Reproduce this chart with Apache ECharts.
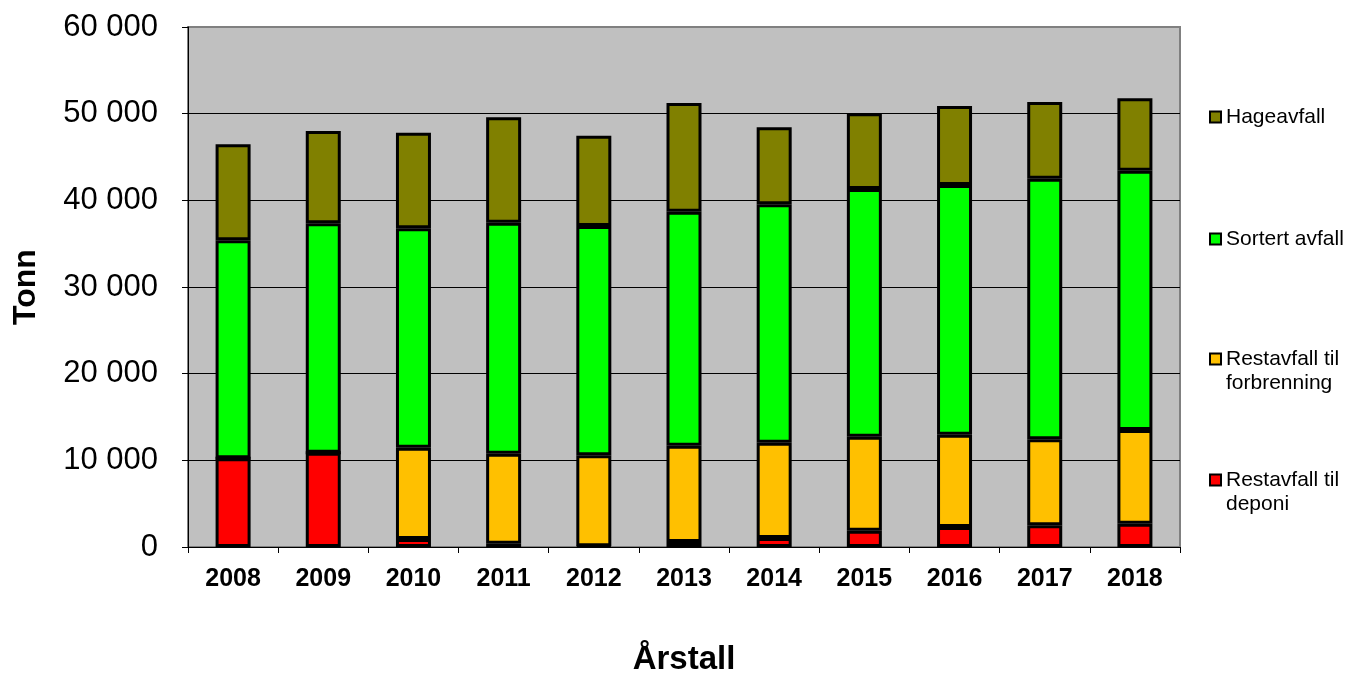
<!DOCTYPE html>
<html>
<head>
<meta charset="utf-8">
<style>
  html, body { margin: 0; padding: 0; background: #fff; }
  #chart { width: 1355px; height: 675px; }
</style>
<script src="https://cdn.jsdelivr.net/npm/echarts@6/dist/echarts.min.js"></script>
</head>
<body>
<div id="chart"></div>
<script>
// Waste volumes per year, in tonnes
const years = ['2008', '2009', '2010', '2011', '2012', '2013', '2014', '2015', '2016', '2017', '2018'];
const restDeponi = [10250, 10880, 920, 380, 100, 580, 1040, 1880, 2310, 2500, 2690];
const restForbrenning = [0, 0, 10540, 10390, 10480, 11110, 11000, 10850, 10650, 9920, 10810];
const sortert = [25130, 26470, 25310, 26650, 26460, 27000, 27500, 28580, 28810, 30080, 29920];
const hage = [11080, 10650, 11030, 12180, 10420, 12540, 8880, 8730, 9110, 8850, 8350];

const names = {
  hage: 'Hageavfall',
  sortert: 'Sortert avfall',
  forbr: 'Restavfall til\nforbrenning',
  deponi: 'Restavfall til\ndeponi'
};

const FONT = '"Liberation Sans", Arial, sans-serif';

const fmt = v => String(v).replace(/\B(?=(\d{3})+(?!\d))/g, ' ');

const barStyle = color => ({ color: color, borderColor: '#000', borderWidth: 3 });

function makeSeries(name, data, color) {
  return {
    name: name,
    type: 'bar',
    stack: 'total',
    barWidth: 35,
    data: data,
    itemStyle: barStyle(color)
  };
}

// One legend block per series so each entry sits at its own height.
// Two-line entries get a blank first line so the marker lines up with the first text line.
function legendFor(name, markerY, twoLines) {
  return {
    data: [name],
    left: 1209,
    top: markerY - (twoLines ? 36 : 12),
    padding: 0,
    icon: 'rect',
    itemWidth: 11,
    itemHeight: 11,
    itemStyle: { borderColor: '#000', borderWidth: 2 },
    formatter: n => (twoLines ? '\n' + n : n),
    textStyle: {
      fontFamily: FONT,
      fontSize: 21,
      color: '#000',
      lineHeight: 24
    },
    selectedMode: false
  };
}

const chart = echarts.init(document.getElementById('chart'), null, { renderer: 'canvas' });

chart.setOption({
  animation: false,
  backgroundColor: '#fff',
  grid: {
    left: 188, right: 175, top: 27, bottom: 128,
    outerBoundsMode: 'none',
    containLabel: false,
    show: true,
    backgroundColor: '#C0C0C0',
    borderColor: '#808080',
    borderWidth: 2
  },
  legend: [
    legendFor(names.hage, 117, false),
    legendFor(names.sortert, 239, false),
    legendFor(names.forbr, 359, true),
    legendFor(names.deponi, 480, true)
  ],
  xAxis: {
    type: 'category',
    data: years,
    name: 'Årstall',
    nameLocation: 'middle',
    nameGap: 96,
    nameTextStyle: { fontFamily: FONT, fontSize: 33, fontWeight: 'bold', color: '#000' },
    axisLine: { lineStyle: { color: '#000', width: 1 } },
    axisTick: { show: true, length: 6, lineStyle: { color: '#000' } },
    axisLabel: { fontFamily: FONT, fontSize: 25, fontWeight: 'bold', color: '#000', margin: 20 }
  },
  yAxis: {
    type: 'value',
    min: 0,
    max: 60000,
    interval: 10000,
    name: 'Tonn',
    nameLocation: 'middle',
    nameGap: 146,
    nameTextStyle: { fontFamily: FONT, fontSize: 32, fontWeight: 'bold', color: '#000' },
    axisLine: { show: true, lineStyle: { color: '#000', width: 1 } },
    axisTick: { show: true, length: 6, lineStyle: { color: '#000' } },
    axisLabel: { fontFamily: FONT, fontSize: 31, color: '#000', margin: 30, formatter: fmt },
    splitLine: {
      show: true,
      lineStyle: { color: ['#000', '#000', '#000', '#000', '#000', '#000', '#808080'], width: 1 }
    }
  },
  series: [
    makeSeries(names.deponi, restDeponi, '#FF0000'),
    makeSeries(names.forbr, restForbrenning, '#FFC000'),
    makeSeries(names.sortert, sortert, '#00FF00'),
    makeSeries(names.hage, hage, '#808000')
  ]
});
</script>
</body>
</html>
